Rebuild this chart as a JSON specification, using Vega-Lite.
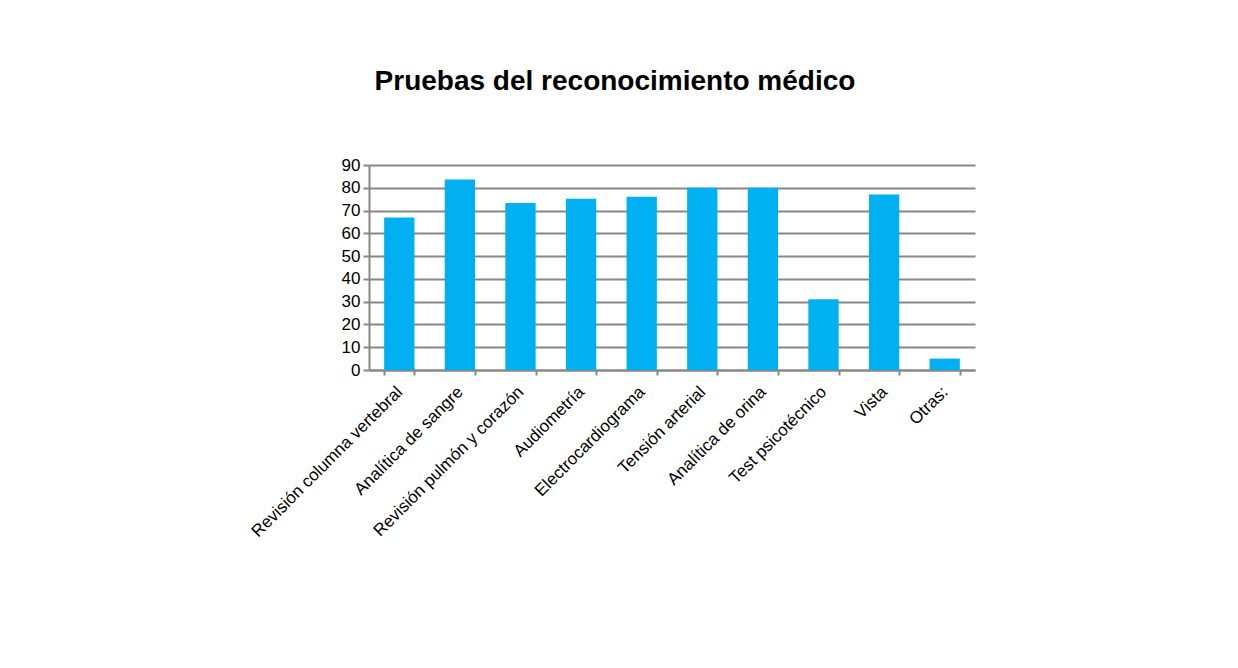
{
  "$schema": "https://vega.github.io/schema/vega-lite/v6.json",
  "width": 606,
  "height": 205,
  "autosize": {"type": "none"},
  "padding": {"left": 369, "top": 165, "right": 263, "bottom": 298},
  "background": "white",
  "config": {
    "font": "Liberation Sans",
    "view": {"stroke": null}
  },
  "title": {
    "text": "Pruebas del reconocimiento médico",
    "fontSize": 28,
    "fontWeight": "bold",
    "color": "black",
    "anchor": "middle",
    "dx": -57,
    "offset": 60,
    "font": "Liberation Sans"
  },
  "data": {
    "values": [
      {"prueba": "Revisión columna vertebral", "valor": 67},
      {"prueba": "Analítica de sangre", "valor": 83.6},
      {"prueba": "Revisión pulmón y corazón", "valor": 73.3},
      {"prueba": "Audiometría", "valor": 75.2},
      {"prueba": "Electrocardiograma", "valor": 76.1},
      {"prueba": "Tensión arterial", "valor": 80},
      {"prueba": "Analítica de orina", "valor": 80},
      {"prueba": "Test psicotécnico", "valor": 31.1},
      {"prueba": "Vista", "valor": 77.1},
      {"prueba": "Otras:", "valor": 5}
    ]
  },
  "mark": {"type": "bar", "color": "#00B0F0"},
  "encoding": {
    "x": {
      "field": "prueba",
      "type": "nominal",
      "sort": null,
      "title": null,
      "scale": {"paddingInner": 0.5, "paddingOuter": 0.25},
      "axis": {
        "labelAngle": -45,
        "labelAlign": "right",
        "labelBaseline": "middle",
        "labelFontSize": 17,
        "labelColor": "black",
        "labelPadding": 14,
        "labelLimit": 300,
        "tickBand": "extent",
        "tickColor": "#878787",
        "tickWidth": 2,
        "tickSize": 5,
        "domainColor": "#878787",
        "domainWidth": 2
      }
    },
    "y": {
      "field": "valor",
      "type": "quantitative",
      "title": null,
      "scale": {"domain": [0, 90], "nice": false},
      "axis": {
        "values": [0, 10, 20, 30, 40, 50, 60, 70, 80, 90],
        "labelFontSize": 17,
        "labelColor": "black",
        "labelPadding": 3,
        "gridColor": "#878787",
        "gridWidth": 2,
        "tickColor": "#878787",
        "tickWidth": 2,
        "tickSize": 6,
        "domainColor": "#878787",
        "domainWidth": 2
      }
    }
  }
}
